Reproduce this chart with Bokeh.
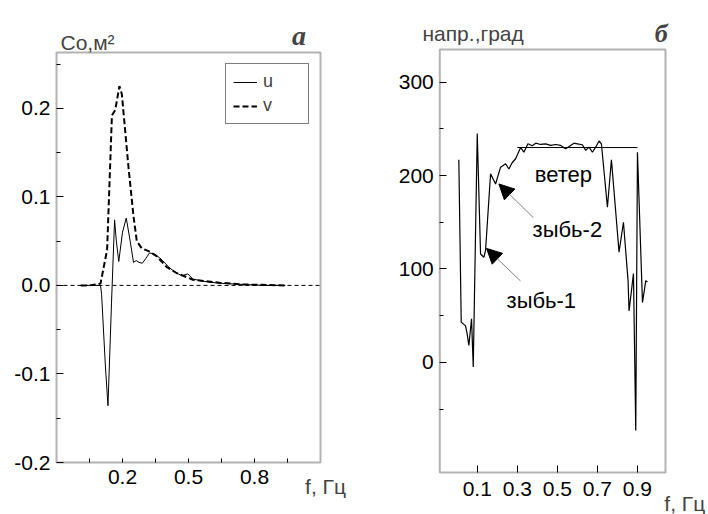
from bokeh.plotting import figure
from bokeh.layouts import row
from bokeh.models import (Range1d, FixedTicker, Legend, LegendItem, Label, BoxAnnotation,
                          Arrow, NormalHead, ColumnDataSource)
from bokeh.core.properties import value
from bokeh.embed import file_html
from bokeh.resources import INLINE

# ---------------- Panel a : co-spectra ----------------
u_freq = [0.01, 0.05, 0.10, 0.105, 0.122, 0.134, 0.150, 0.164, 0.172, 0.183, 0.200, 0.217,
          0.235, 0.250, 0.262, 0.275, 0.290, 0.305, 0.322, 0.340, 0.370, 0.415, 0.445,
          0.470, 0.497, 0.520, 0.560, 0.600, 0.670, 0.750, 0.850, 0.940]
u_co = [0.0, 0.0, 0.0, -0.01, -0.09, -0.136, -0.02, 0.074, 0.05, 0.027, 0.06, 0.076,
        0.05, 0.026, 0.028, 0.026, 0.025, 0.03, 0.0365, 0.036, 0.031, 0.0196, 0.014,
        0.011, 0.013, 0.0072, 0.005, 0.0035, 0.002, 0.001, 0.0, 0.0]
v_freq = [0.01, 0.05, 0.10, 0.13, 0.152, 0.167, 0.186, 0.197, 0.227, 0.250, 0.265, 0.287,
          0.325, 0.355, 0.400, 0.445, 0.520, 0.640, 0.750, 0.940]
v_co = [0.0, 0.0, 0.002, 0.04, 0.192, 0.198, 0.225, 0.216, 0.134, 0.078, 0.05, 0.042,
        0.038, 0.033, 0.021, 0.014, 0.0064, 0.003, 0.001, 0.0]
a_xticks = [0.05, 0.2, 0.35, 0.5, 0.65, 0.8, 0.95]
a_xlabel_ticks = [0.2, 0.5, 0.8]
a_xlabels = ["0.2", "0.5", "0.8"]
a_yticks = [-0.2, -0.1, 0.0, 0.1, 0.2]
a_ylabels = ["-0.2", "-0.1", "0.0", "0.1", "0.2"]
a_yminor = [-0.15, -0.05, 0.05, 0.15, 0.25]
a_xlim = (-0.1, 1.1)
a_ylim = (-0.2, 0.263)

# ---------------- Panel б : direction ----------------
dir_freq = [0.008, 0.02, 0.0415, 0.05, 0.058, 0.0715, 0.08, 0.10, 0.1165, 0.133, 0.1415,
            0.1665, 0.1915, 0.2165, 0.2415, 0.258, 0.275, 0.2915, 0.3165, 0.333, 0.353,
            0.375, 0.3915, 0.4165, 0.4415, 0.4665, 0.4915, 0.5165, 0.5415, 0.5665, 0.583,
            0.60, 0.625, 0.6415, 0.658, 0.675, 0.6915, 0.708, 0.72, 0.75, 0.77, 0.808,
            0.83, 0.853, 0.858, 0.88, 0.8915, 0.90, 0.925, 0.9415, 0.95]
dir_deg = [217, 43, 39, 30, 18, 46.5, -5, 245, 116, 112.5, 120,
           202, 191, 209, 212.6, 207, 214, 218, 230, 225, 234,
           232, 234.7, 233.3, 234, 232.3, 233.3, 232.3, 228.7, 232.3, 234.7,
           234, 233, 227, 230.4, 225, 230.4, 237, 234, 166, 217, 118,
           150, 87.5, 55, 95, -73, 225, 64, 87.5, 86]
wind_freq = [0.3, 0.9]
wind_deg = [230, 230]
b_xticks = [0.1, 0.3, 0.5, 0.7, 0.9]
b_yticks = [0, 100, 200, 300]
b_yminor = [-50, 50, 150, 250]
b_xlim = (-0.087, 1.04)
b_ylim = (-118, 335)
ann_text = ["ветер", "зыбь-2", "зыбь-1"]
ann_freq = [0.53, 0.55, 0.42]
ann_deg = [201, 142, 66]
arr_x0 = [0.38, 0.3165]
arr_y0 = [155, 87]
arr_x1 = [0.208, 0.1465]
arr_y1 = [191, 122]

FONT = "Liberation Sans"
TICK_FS = "21px"
F_LABEL = "f, Гц"


def rng(lim, box_lo, box_hi, frame_px):
    """Range covering the whole canvas while the boxed area [box_lo, box_hi] px keeps lim."""
    lo, hi = lim
    s = (hi - lo) / (box_hi - box_lo)
    return Range1d(lo - box_lo * s, hi + (frame_px - box_hi) * s)


def make_fig(width, height, box_x, box_y, xlim, ylim):
    # box_x / box_y: pixel extents of the drawn box (x from left, y from bottom)
    p = figure(width=width, height=height, output_backend="svg", toolbar_location=None,
               x_range=rng(xlim, box_x[0], box_x[1], width),
               y_range=rng(ylim, box_y[0], box_y[1], height),
               min_border=0)
    p.outline_line_color = None
    p.xgrid.visible = False
    p.ygrid.visible = False
    p.background_fill_color = "white"
    p.border_fill_color = "white"
    p.xaxis[0].fixed_location = ylim[0]
    p.yaxis[0].fixed_location = xlim[0]
    for ax in (p.xaxis[0], p.yaxis[0]):
        ax.axis_line_color = None
        ax.major_tick_out = 0
        ax.minor_tick_out = 0
        ax.major_tick_line_color = "black"
        ax.minor_tick_line_color = "black"
        ax.major_label_text_font = FONT
        ax.major_label_text_font_size = TICK_FS
        ax.major_label_text_color = "black"
    p.add_layout(BoxAnnotation(left=xlim[0], right=xlim[1], bottom=ylim[0], top=ylim[1],
                               fill_alpha=0, line_color="black", line_width=2))
    return p


# ---------- figure a ----------
pa = make_fig(360, 514, (56, 320), (52, 462), a_xlim, a_ylim)
pa.xaxis[0].ticker = FixedTicker(ticks=a_xlabel_ticks, minor_ticks=a_xticks)
pa.xaxis[0].major_label_overrides = dict(zip(a_xlabel_ticks, a_xlabels))
pa.xaxis[0].major_tick_line_color = None
pa.xaxis[0].minor_tick_in = 4
pa.xaxis[0].major_label_standoff = 7
pa.yaxis[0].ticker = FixedTicker(ticks=a_yticks, minor_ticks=a_yminor)
pa.yaxis[0].major_label_overrides = dict(zip(a_yticks, a_ylabels))
pa.yaxis[0].major_tick_in = 7
pa.yaxis[0].minor_tick_in = 4
pa.yaxis[0].major_label_standoff = 6

pa.line(list(a_xlim), [0, 0], line_color="black", line_width=1, line_dash="4 3")
ru = pa.line(u_freq, u_co, line_color="black", line_width=1)
rv = pa.line(v_freq, v_co, line_color="black", line_width=2, line_dash="6 3")

leg = Legend(items=[LegendItem(label="u", renderers=[ru]), LegendItem(label="v", renderers=[rv])],
             location=(225, 390), margin=0, padding=7, spacing=3,
             glyph_width=24, glyph_height=18, label_height=18, label_width=38,
             label_standoff=6, label_text_font=FONT, label_text_font_size="18px",
             border_line_color="black", border_line_width=1, background_fill_alpha=1)
pa.add_layout(leg)

pa.add_layout(Label(x=-0.082, y=0.2743, text="Co,м²", text_font=FONT, text_font_size="21px",
                    text_baseline="alphabetic"))
pa.add_layout(Label(x=1.002, y=0.2822, text="a", text_font="Liberation Serif",
                    text_font_style="bold italic", text_font_size="28px",
                    text_align="center", text_baseline="alphabetic"))
pa.add_layout(Label(x=1.03, y=-0.2271, text=F_LABEL, text_font=FONT, text_font_size="21px",
                    text_baseline="alphabetic"))

# ---------- figure б ----------
pb = make_fig(348, 514, (79.3, 305), (42, 465), b_xlim, b_ylim)
pb.xaxis[0].ticker = FixedTicker(ticks=b_xticks, minor_ticks=[])
pb.xaxis[0].major_tick_in = 7
pb.xaxis[0].major_label_standoff = 9
pb.yaxis[0].ticker = FixedTicker(ticks=b_yticks, minor_ticks=b_yminor)
pb.yaxis[0].major_tick_in = 7
pb.yaxis[0].minor_tick_in = 4
pb.yaxis[0].major_label_standoff = 6

pb.line(dir_freq, dir_deg, line_color="black", line_width=1.2)
pb.line(wind_freq, wind_deg, line_color="black", line_width=1)

ann_src = ColumnDataSource(dict(x=ann_freq, y=ann_deg, t=ann_text))
pb.text(x="x", y="y", text="t", source=ann_src, text_font=value(FONT),
        text_font_size=value("22px"), text_align="center", text_baseline="middle",
        text_color="black")
arr_src = ColumnDataSource(dict(x0=arr_x0, y0=arr_y0, x1=arr_x1, y1=arr_y1))
pb.add_layout(Arrow(end=NormalHead(size=15, fill_color="black", line_color="black"),
                    x_start="x0", y_start="y0", x_end="x1", y_end="y1", source=arr_src,
                    line_color="#808080", line_width=1))

pb.add_layout(Label(x=-0.1735, y=352, text="напр.,град", text_font=FONT,
                    text_font_size="21px", text_baseline="alphabetic"))
pb.add_layout(Label(x=1.019, y=352, text="б", text_font="Liberation Serif",
                    text_font_style="bold italic", text_font_size="26px",
                    text_align="center", text_baseline="alphabetic"))
pb.add_layout(Label(x=1.034, y=-151, text=F_LABEL, text_font=FONT, text_font_size="21px",
                    text_baseline="alphabetic"))

layout = row(pa, pb)
open("out.html", "w").write(file_html(layout, INLINE))
